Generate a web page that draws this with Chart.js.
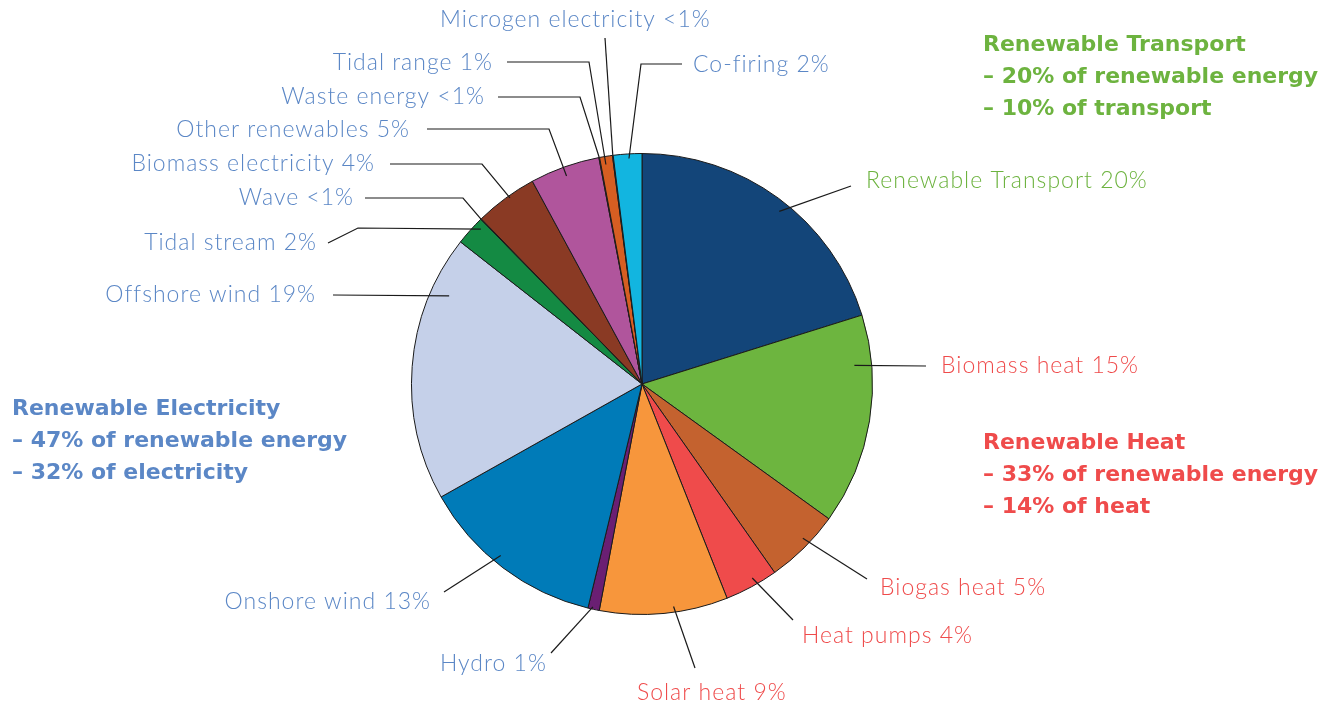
<!doctype html>
<html lang="en">
<head>
    <meta charset="UTF-8">
    <title>Renewable energy shares</title>
    <style>
        body {
            margin: 0;
            background-color: #ffffff;
        }
        #chart-box {
            position: relative;
            width: 1339px;
            height: 704px;
        }
    </style>
    <script src="https://cdn.jsdelivr.net/npm/chart.js"></script>
</head>
<body>
<div id="chart-box">
    <canvas id="myChart"></canvas>
</div>

<script>
    // slices, clockwise from 12 o'clock
    const categories = [
        'Renewable Transport', 'Biomass heat', 'Biogas heat', 'Heat pumps', 'Solar heat',
        'Hydro', 'Onshore wind', 'Offshore wind', 'Tidal stream', 'Wave',
        'Biomass electricity', 'Other renewables', 'Waste energy', 'Tidal range',
        'Microgen electricity', 'Co-firing'
    ];
    const shares = [20.2, 14.8, 5.3, 3.75, 9.0, 0.8, 13.1, 18.75, 2.1, 0.05, 4.4, 4.9, 0.05, 0.9, 0.05, 2.0];
    const shareText = ['20%', '15%', '5%', '4%', '9%', '1%', '13%', '19%', '2%', '<1%', '4%', '5%', '<1%', '1%', '<1%', '2%'];
    const groups = ['T', 'H', 'H', 'H', 'H', 'E', 'E', 'E', 'E', 'E', 'E', 'E', 'E', 'E', 'E', 'E'];
    const sliceColors = [
        '#134579', '#6db53f', '#c4622f', '#ef4b4b', '#f7963c',
        '#6a1f73', '#007bb8', '#c5d0e9', '#148a43', '#148a43',
        '#8a3a24', '#b0559c', '#d65e22', '#d65e22', '#12b5e0', '#12b5e0'
    ];

    const groupTitle = {
        T: 'Renewable Transport',
        H: 'Renewable Heat',
        E: 'Renewable Electricity'
    };
    const groupNotes = {
        T: ['– 20% of renewable energy', '– 10% of transport'],
        H: ['– 33% of renewable energy', '– 14% of heat'],
        E: ['– 47% of renewable energy', '– 32% of electricity']
    };

    const groupColor = { T: '#6db33f', H: '#ef4b4b', E: '#5b87c6' };

    // label placement: text anchor, leader line bends, and where the line meets the slice
    const labelLayout = [
        { x: 866, y: 181, align: 'left',  pts: [[851, 186]], t: 0.53, rf: 0.957 },
        { x: 941, y: 366, align: 'left',  pts: [[926, 366]], t: 0.233, rf: 0.925 },
        { x: 880, y: 588, align: 'left',  pts: [[867, 579]], t: 0.42, rf: 0.967 },
        { x: 802, y: 636, align: 'left',  pts: [[793, 620]], t: 0.41, rf: 0.968 },
        { x: 637, y: 693, align: 'left',  pts: [[695, 668]], t: 0.42, rf: 0.975 },
        { x: 440, y: 664, align: 'left',  pts: [[551, 653]], t: 0.6, rf: 0.99 },
        { x: 431, y: 602, align: 'right', pts: [[444, 592]], t: 0.55, rf: 0.964 },
        { x: 316, y: 295, align: 'right', pts: [[333, 295]], t: 0.80, rf: 0.92 },
        { x: 317, y: 243, align: 'right', pts: [[328, 243], [358, 228]], t: 0.77, rf: 0.97 },
        { x: 354, y: 198, align: 'right', pts: [[365, 198], [463, 198]], t: 0.5, rf: 1.0 },
        { x: 375, y: 164, align: 'right', pts: [[390, 164], [482, 164]], t: 0.56, rf: 0.99 },
        { x: 410, y: 130, align: 'right', pts: [[427, 129], [549, 129]], t: 0.48, rf: 0.96 },
        { x: 485, y: 97,  align: 'right', pts: [[498, 97], [580, 97]], t: 0.5, rf: 1.0 },
        { x: 493, y: 63,  align: 'right', pts: [[507, 62], [589, 62]], t: 0.39, rf: 0.965 },
        { x: 440, y: 20,  align: 'left',  pts: [[605, 38]], t: 0.5, rf: 1.0 },
        { x: 693, y: 65,  align: 'left',  pts: [[682, 64], [641, 64]], t: 0.54, rf: 0.98 }
    ];

    const groupLayout = {
        T: { x: 983, y: 45 },
        H: { x: 983, y: 443 },
        E: { x: 12, y: 409 }
    };

    const labelFont = '300 23px Lato, "DejaVu Sans", sans-serif';
    const titleFont = 'bold 22px "DejaVu Sans", sans-serif';

    const calloutPlugin = {
        id: 'callouts',
        afterDatasetsDraw(chart) {
            const ctx = chart.ctx;
            const arcs = chart.getDatasetMeta(0).data;
            ctx.save();

            // leader lines
            ctx.strokeStyle = '#1a1a1a';
            ctx.lineWidth = 1.2;
            arcs.forEach((arc, i) => {
                const lay = labelLayout[i];
                const p = arc.getProps(['x', 'y', 'startAngle', 'endAngle', 'outerRadius'], true);
                const a = p.startAngle + lay.t * (p.endAngle - p.startAngle);
                const r = p.outerRadius * lay.rf;
                ctx.beginPath();
                ctx.moveTo(lay.pts[0][0], lay.pts[0][1]);
                for (let k = 1; k < lay.pts.length; k++) {
                    ctx.lineTo(lay.pts[k][0], lay.pts[k][1]);
                }
                ctx.lineTo(p.x + Math.cos(a) * r, p.y + Math.sin(a) * r);
                ctx.stroke();
            });

            // slice labels
            ctx.font = labelFont;
            ctx.letterSpacing = '1px';
            ctx.textBaseline = 'middle';
            categories.forEach((name, i) => {
                const lay = labelLayout[i];
                ctx.fillStyle = groupColor[groups[i]];
                ctx.textAlign = lay.align;
                ctx.fillText(name + ' ' + shareText[i], lay.x, lay.y);
            });

            // group summaries
            ctx.font = titleFont;
            ctx.letterSpacing = '0px';
            ctx.textAlign = 'left';
            Object.keys(groupLayout).forEach(g => {
                const pos = groupLayout[g];
                ctx.fillStyle = groupColor[g];
                const lines = [groupTitle[g]].concat(groupNotes[g]);
                lines.forEach((line, k) => {
                    ctx.fillText(line, pos.x, pos.y + k * 32);
                });
            });

            ctx.restore();
        }
    };

    const ctx = document.getElementById('myChart').getContext('2d');
    new Chart(ctx, {
        type: 'pie',
        data: {
            labels: categories,
            datasets: [{
                data: shares,
                backgroundColor: sliceColors,
                borderColor: '#1a1a1a',
                borderWidth: 1
            }]
        },
        options: {
            responsive: true,
            maintainAspectRatio: false,
            animation: false,
            layout: {
                padding: { left: 411, right: 466, top: 153, bottom: 89 }
            },
            plugins: {
                legend: { display: false },
                tooltip: { enabled: false }
            }
        },
        plugins: [calloutPlugin]
    });
</script>
</body>
</html>
